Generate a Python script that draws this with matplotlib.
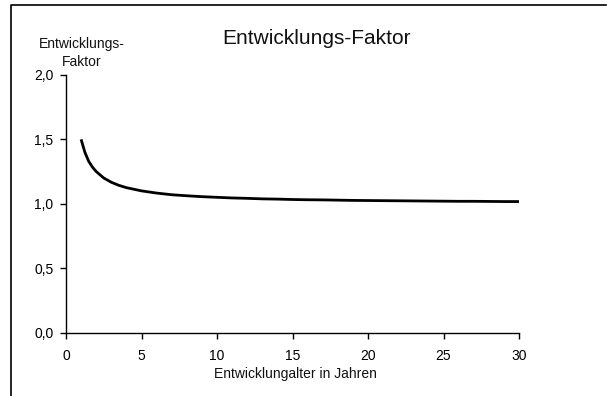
import matplotlib
matplotlib.use("Agg")
import matplotlib.pyplot as plt
from matplotlib.lines import Line2D
from matplotlib.ticker import FuncFormatter

plt.rcParams['font.family'] = ['Liberation Sans', 'DejaVu Sans']

years = [1, 1.25, 1.5, 1.75, 2, 2.5, 3, 3.5, 4, 5, 6, 7, 8, 9, 10, 11, 12, 13, 14, 15, 16, 17, 18,
         19, 20, 21, 22, 23, 24, 25, 26, 27, 28, 29, 30]
factor = [1.50, 1.40, 1.33, 1.285, 1.25, 1.20, 1.167, 1.143, 1.125, 1.10, 1.083, 1.07, 1.062,
          1.055, 1.05, 1.045, 1.042, 1.038, 1.036, 1.033, 1.031, 1.03, 1.028, 1.026, 1.025,
          1.024, 1.023, 1.022, 1.021, 1.02, 1.019, 1.019, 1.018, 1.017, 1.017]
x_ticks = [0, 5, 10, 15, 20, 25, 30]
y_ticks = [0.0, 0.5, 1.0, 1.5, 2.0]

W, H = 607, 396
fig = plt.figure(figsize=(W / 100, H / 100), dpi=100)
ax = fig.add_axes([66 / W, 1 - 332.5 / H, (519 - 66) / W, (332.5 - 75) / H])

ax.plot(years, factor, color='black', linewidth=2.0, solid_capstyle='butt', solid_joinstyle='round')
ax.set_xlim(0, 30)
ax.set_ylim(0, 2)
ax.set_xticks(x_ticks)
ax.set_yticks(y_ticks)
ax.yaxis.set_major_formatter(FuncFormatter(lambda v, p: f"{v:.1f}".replace('.', ',')))
for s in ['top', 'right']:
    ax.spines[s].set_visible(False)
for s in ['left', 'bottom']:
    ax.spines[s].set_linewidth(1.0)
ax.tick_params(direction='out', length=4, width=1.0, labelsize=10, colors='black', pad=5)
ax.tick_params(axis='x', pad=8)

fig.text(317 / W, 1 - 38 / H, 'Entwicklungs-Faktor', ha='center', va='center', fontsize=15,
         color='#111111')
fig.text(82 / W, 1 - 53 / H, 'Entwicklungs-\nFaktor', ha='center', va='center', fontsize=10,
         linespacing=1.35, color='#111111')
fig.text(295 / W, 1 - 374 / H, 'Entwicklungalter in Jahren', ha='center', va='center', fontsize=10,
         color='#111111')

fig.add_artist(Line2D([11 / W, 11 / W, 606 / W], [0, 1 - 5 / H, 1 - 5 / H],
                      transform=fig.transFigure, color='black', linewidth=1.2))

fig.savefig('out.png', dpi=100)
